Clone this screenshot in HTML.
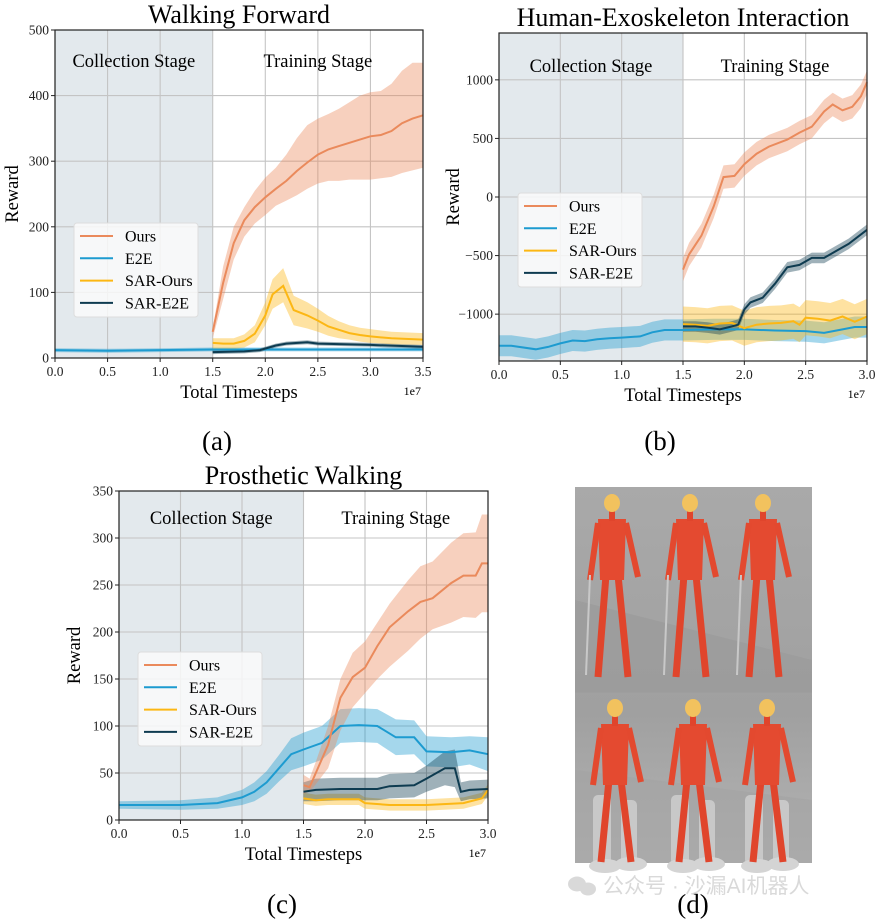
<!DOCTYPE html>
<html><head><meta charset="utf-8">
<style>
html,body{margin:0;padding:0;background:#fff;}
svg{display:block;font-family:"Liberation Serif","Noto Serif CJK SC",serif;}
.tick{font-size:13.5px;fill:#222;}
</style></head>
<body>
<svg id="fig" width="880" height="921" viewBox="0 0 880 921" xmlns="http://www.w3.org/2000/svg">
  <g id="pa"></g>
  <g id="pb"></g>
  <g id="pc"></g>
  <text x="217" y="450" font-size="27" text-anchor="middle">(a)</text>
  <text x="660" y="450" font-size="27" text-anchor="middle">(b)</text>
  <text x="282" y="913" font-size="27" text-anchor="middle">(c)</text>
  <g id="pd">
    <defs>
      <linearGradient id="bgg" x1="0" y1="0" x2="0" y2="1">
        <stop offset="0" stop-color="#a9a9a9"/><stop offset="0.6" stop-color="#a0a0a0"/><stop offset="1" stop-color="#b4b4b4"/>
      </linearGradient>
    </defs>
    <rect x="575" y="487" width="237" height="376" fill="url(#bgg)"/>
    <polygon points="575,600 812,660 812,692 575,692" fill="#9a9a9a" opacity="0.6"/>
    <polygon points="575,770 812,800 812,863 575,863" fill="#a4a4a4" opacity="0.6"/>
    <line x1="575" y1="692" x2="812" y2="692" stroke="#9c9c9c"/>
  </g>
  <text x="693" y="913" font-size="27" text-anchor="middle">(d)</text>
  <g opacity="0.55">
    <ellipse cx="577" cy="884" rx="9" ry="7.5" fill="#bbb"/>
    <ellipse cx="588" cy="889" rx="8" ry="6.5" fill="#bbb"/>
    <text x="603" y="893" font-size="21" fill="#bbb" font-family="Liberation Sans, Noto Sans CJK SC, sans-serif">公众号 · 沙漏AI机器人</text>
  </g>
</svg>
<script>
const NS="http://www.w3.org/2000/svg";
const COL={ours:"#ea8a5c",e2e:"#1d9bd0",sarOurs:"#fcb714",sarE2E:"#0e3b50"};

// ---------- Panel A data ----------
const aX_ours=[1.5,1.6,1.7,1.8,1.9,2.0,2.1,2.2,2.3,2.4,2.5,2.6,2.7,2.8,2.9,3.0,3.1,3.2,3.3,3.4,3.5];
const aOurs=[40,115,175,210,230,245,258,270,285,298,310,318,323,328,333,338,340,346,358,365,370];
const aOursLo=[30,90,150,185,205,218,232,240,248,258,266,270,270,272,272,272,274,276,282,286,290];
const aOursHi=[45,140,200,230,255,275,290,310,335,355,365,372,380,390,400,405,407,418,438,450,450];
const aX_sar=[1.5,1.6,1.7,1.8,1.9,2.0,2.07,2.17,2.27,2.4,2.5,2.6,2.7,2.8,2.9,3.0,3.2,3.5];
const aSarOurs=[23,22,22,26,37,65,97,110,73,65,57,48,43,38,35,33,30,28];
const aSarOursLo=[14,14,14,16,24,50,75,85,50,45,40,34,30,28,25,23,21,20];
const aSarOursHi=[30,30,30,36,50,85,120,137,95,85,75,64,56,50,46,44,40,38];
const aX_sare=[1.5,1.8,1.95,2.1,2.2,2.4,2.5,3.0,3.5];
const aSarE2E=[9,10,12,19,22,24,22,20,17];
const aX_e2e=[0,0.5,1.0,1.5,2.0,2.5,3.0,3.5];
const aE2E=[12,11,12,13,13,13,13,13];

// ---------- Panel B data ----------
const bX_e2e=[0,0.1,0.3,0.4,0.5,0.6,0.7,0.8,0.9,1.0,1.15,1.25,1.35,1.5,1.75,2.0,2.25,2.5,2.65,2.8,2.9,3.0];
const bE2E=[-1270,-1270,-1300,-1280,-1250,-1225,-1230,-1215,-1205,-1200,-1190,-1155,-1135,-1135,-1130,-1130,-1140,-1145,-1160,-1130,-1110,-1110];
const bX_ours=[1.5,1.55,1.65,1.75,1.83,1.92,2.0,2.1,2.2,2.35,2.45,2.55,2.65,2.72,2.8,2.88,2.95,3.0];
const bOurs=[-620,-490,-330,-80,170,180,280,370,430,490,550,600,730,790,740,770,860,980];
const bX_sare=[1.5,1.6,1.7,1.8,1.88,1.95,2.0,2.05,2.15,2.25,2.35,2.45,2.55,2.65,2.75,2.85,3.0];
const bSarE2E=[-1105,-1105,-1115,-1130,-1110,-1090,-960,-900,-860,-740,-600,-580,-520,-520,-460,-400,-280];
const bX_saro=[1.5,1.6,1.7,1.8,1.9,2.0,2.1,2.2,2.3,2.4,2.45,2.5,2.6,2.7,2.8,2.9,3.0];
const bSarOurs=[-1085,-1090,-1100,-1080,-1075,-1120,-1090,-1080,-1075,-1060,-1090,-1030,-1040,-1055,-1020,-1065,-1020];

// ---------- Panel C data ----------
const cX_e2e=[0,0.5,0.8,1.0,1.1,1.2,1.3,1.4,1.5,1.65,1.8,1.95,2.1,2.25,2.4,2.5,2.7,2.85,3.0];
const cE2E=[16,16,18,24,30,40,55,70,75,82,100,101,100,88,88,73,72,74,70];
const cE2EHalf=[4,5,6,8,10,12,14,17,18,18,18,18,18,19,18,16,16,15,18];
const cX_ours=[1.5,1.55,1.6,1.7,1.8,1.9,2.0,2.1,2.2,2.35,2.45,2.55,2.7,2.8,2.9,2.95,3.0];
const cOurs=[37,35,50,80,130,152,162,185,205,222,232,236,252,260,260,273,273];
const cOursLo=[28,30,38,55,95,120,135,150,163,180,193,203,210,216,215,221,221];
const cOursHi=[48,44,62,100,150,178,190,210,230,255,270,275,295,305,306,325,325];
const cX_sare=[1.5,1.6,1.8,2.1,2.2,2.4,2.5,2.65,2.73,2.78,2.85,3.0];
const cSarE2E=[30,32,33,33,36,37,44,55,55,30,32,33];
const cSarE2EHalf=[10,12,12,12,13,13,14,18,20,10,10,10];
const cX_saro=[1.5,1.6,1.7,1.95,2.0,2.2,2.5,2.8,2.95,3.0];
const cSarOurs=[23,21,22,22,18,16,16,18,23,32];

function el(parent,tag,attrs){const e=document.createElementNS(NS,tag);for(const k in attrs)e.setAttribute(k,attrs[k]);parent.appendChild(e);return e;}

function makeChart(g,cfg){
  const {L,R,T,B,xmax,ymin,ymax}=cfg;
  const sx=v=>L+(v/xmax)*(R-L);
  const sy=v=>B-(v-ymin)/(ymax-ymin)*(B-T);
  const sh=el(g,"rect",{x:L,y:T,width:sx(1.5)-L,height:B-T,fill:"#e3e9ed"});
  
  
  cfg.xticks.forEach(v=>{el(g,"line",{x1:sx(v),x2:sx(v),y1:T,y2:B,stroke:"#c4c4c4","stroke-width":1.1});});
  cfg.yticks.forEach(v=>{el(g,"line",{x1:L,x2:R,y1:sy(v),y2:sy(v),stroke:"#c4c4c4","stroke-width":1.1});});
  const t1=el(g,"text",{x:(L+sx(1.5))/2,y:T+cfg.stageDy,"font-size":18.5,"text-anchor":"middle"});t1.textContent="Collection Stage";
  
  
  const t2=el(g,"text",{x:(sx(1.5)+R)/2,y:T+cfg.stageDy,"font-size":18.5,"text-anchor":"middle"});t2.textContent="Training Stage";
  
  
  cfg.series.forEach(s=>{
    const lo=s.lo||s.y.map((v,i)=>v-(Array.isArray(s.half)?s.half[i]:s.half));
    const hi=s.hi||s.y.map((v,i)=>v+(Array.isArray(s.half)?s.half[i]:s.half));
    let d="M"+s.x.map((x,i)=>sx(x).toFixed(1)+","+sy(hi[i]).toFixed(1)).join("L");
    for(let i=s.x.length-1;i>=0;i--)d+="L"+sx(s.x[i]).toFixed(1)+","+sy(lo[i]).toFixed(1);
    const band=el(g,"path",{d:d+"Z",fill:s.c,"fill-opacity":0.4,stroke:"none"});
    
    
  });
  cfg.series.forEach(s=>{
    const p=el(g,"polyline",{points:s.x.map((x,i)=>sx(x).toFixed(1)+","+sy(s.y[i]).toFixed(1)).join(" "),fill:"none",stroke:s.c,"stroke-width":2});
    
    
  });
  el(g,"rect",{x:L,y:T,width:R-L,height:B-T,fill:"none",stroke:"#222","stroke-width":1.2});
  cfg.xticks.forEach(v=>{
    el(g,"line",{x1:sx(v),x2:sx(v),y1:B,y2:B+4,stroke:"#222"});
    const t=el(g,"text",{x:sx(v),y:B+18,"text-anchor":"middle",class:"tick"});t.textContent=v.toFixed(1);
    
    
  });
  cfg.yticks.forEach(v=>{
    el(g,"line",{x1:L-4,x2:L,y1:sy(v),y2:sy(v),stroke:"#222"});
    const t=el(g,"text",{x:L-6,y:sy(v)+4.5,"text-anchor":"end",class:"tick"});t.textContent=v<0?"\u2212"+(-v):String(v);
    
    
  });
  const xl=el(g,"text",{x:(L+R)/2,y:B+40,"font-size":18.5,"text-anchor":"middle"});xl.textContent="Total Timesteps";
  
  
  const ex=el(g,"text",{x:R-2,y:B+37,"font-size":12,"text-anchor":"end"});ex.textContent="1e7";
  
  
  const yl=el(g,"text",{x:0,y:0,"font-size":18.5,"text-anchor":"middle",transform:`translate(${cfg.ylx},${(T+B)/2}) rotate(-90)`});yl.textContent="Reward";
  
  
  const ti=el(g,"text",{x:(L+R)/2,y:T-7,"font-size":26,"text-anchor":"middle"});ti.textContent=cfg.title;
  
  
  const lg=el(g,"g",{});
  
  
  const [lx,ly]=cfg.leg;
  el(lg,"rect",{x:lx,y:ly,width:124,height:94,rx:3,fill:"#fafafa","fill-opacity":0.85,stroke:"#ddd"});
  const names=[["Ours",COL.ours],["E2E",COL.e2e],["SAR-Ours",COL.sarOurs],["SAR-E2E",COL.sarE2E]];
  names.forEach((n,i)=>{
    const yy=ly+13+i*22.3;
    el(lg,"line",{x1:lx+6,x2:lx+39,y1:yy,y2:yy,stroke:n[1],"stroke-width":2});
    const t=el(lg,"text",{x:lx+51,y:yy+5.5,"font-size":16});t.textContent=n[0];
    
    
  });
}

makeChart(document.getElementById("pa"),{L:55,R:423,T:30,B:358,xmax:3.5,ymin:0,ymax:500,title:"Walking Forward",
  xticks:[0,0.5,1,1.5,2,2.5,3,3.5],yticks:[0,100,200,300,400,500],ylx:18,stageDy:37,leg:[74,223],
  series:[
    {name:"e2e",x:aX_e2e,y:aE2E,half:3,c:COL.e2e},
    {name:"sar-e2e",x:aX_sare,y:aSarE2E,half:3,c:COL.sarE2E},
    {name:"sar-ours",x:aX_sar,y:aSarOurs,lo:aSarOursLo,hi:aSarOursHi,c:COL.sarOurs},
    {name:"ours",x:aX_ours,y:aOurs,lo:aOursLo,hi:aOursHi,c:COL.ours}
  ]});
makeChart(document.getElementById("pb"),{L:499,R:867,T:33,B:361,xmax:3.0,ymin:-1400,ymax:1400,title:"Human-Exoskeleton Interaction",
  xticks:[0,0.5,1,1.5,2,2.5,3],yticks:[-1000,-500,0,500,1000],ylx:459,stageDy:39,leg:[518,193],
  series:[
    {name:"e2e",x:bX_e2e,y:bE2E,half:90,c:COL.e2e},
    {name:"sar-ours",x:bX_saro,y:bSarOurs,half:150,c:COL.sarOurs},
    {name:"sar-e2e",x:bX_sare,y:bSarE2E,half:45,c:COL.sarE2E},
    {name:"ours",x:bX_ours,y:bOurs,half:100,c:COL.ours}
  ]});
makeChart(document.getElementById("pc"),{L:119,R:488,T:491,B:820,xmax:3.0,ymin:0,ymax:350,title:"Prosthetic Walking",
  xticks:[0,0.5,1,1.5,2,2.5,3],yticks:[0,50,100,150,200,250,300,350],ylx:80,stageDy:33,leg:[138,652],
  series:[
    {name:"e2e",x:cX_e2e,y:cE2E,half:cE2EHalf,c:COL.e2e},
    {name:"sar-ours",x:cX_saro,y:cSarOurs,half:6,c:COL.sarOurs},
    {name:"sar-e2e",x:cX_sare,y:cSarE2E,half:cSarE2EHalf,c:COL.sarE2E},
    {name:"ours",x:cX_ours,y:cOurs,lo:cOursLo,hi:cOursHi,c:COL.ours}
  ]});

const pd=document.getElementById("pd");
function figure(cx,top,exo){
  const g=el(pd,"g",{});
  
  
  const h=exo?170:190;
  if(exo){
    el(g,"rect",{x:cx-22,y:top+95,width:18,height:70,rx:5,fill:"#c8c8c8"});
    el(g,"rect",{x:cx+6,y:top+100,width:16,height:65,rx:5,fill:"#c8c8c8"});
    el(g,"ellipse",{cx:cx-10,cy:top+h-4,rx:16,ry:7,fill:"#d4d4d4"});
    el(g,"ellipse",{cx:cx+16,cy:top+h-6,rx:16,ry:7,fill:"#d4d4d4"});
  }
  el(g,"line",{x1:cx-6,y1:top+80,x2:cx-14,y2:top+h-8,stroke:"#e0452c","stroke-width":7});
  el(g,"line",{x1:cx+6,y1:top+80,x2:cx+16,y2:top+h-8,stroke:"#e0452c","stroke-width":7});
  el(g,"path",{d:`M${cx-14},${top+24} L${cx+14},${top+24} L${cx+12},${top+85} L${cx-12},${top+85} Z`,fill:"#e44a30"});
  el(g,"line",{x1:cx-14,y1:top+28,x2:cx-22,y2:top+85,stroke:"#e3492f","stroke-width":6});
  el(g,"line",{x1:cx+14,y1:top+28,x2:cx+26,y2:top+82,stroke:"#e3492f","stroke-width":6});
  el(g,"rect",{x:cx-3,y:top+14,width:6,height:12,fill:"#e0452c"});
  el(g,"ellipse",{cx:cx,cy:top+8,rx:8,ry:9,fill:"#f2c25e"});
  if(!exo) el(g,"line",{x1:cx-22,y1:top+80,x2:cx-26,y2:top+h-10,stroke:"#c8c8c8","stroke-width":2});
}
[612,690,763].forEach(x=>figure(x,495,false));
[615,693,767].forEach(x=>figure(x,700,true));
</script>
</body></html>
